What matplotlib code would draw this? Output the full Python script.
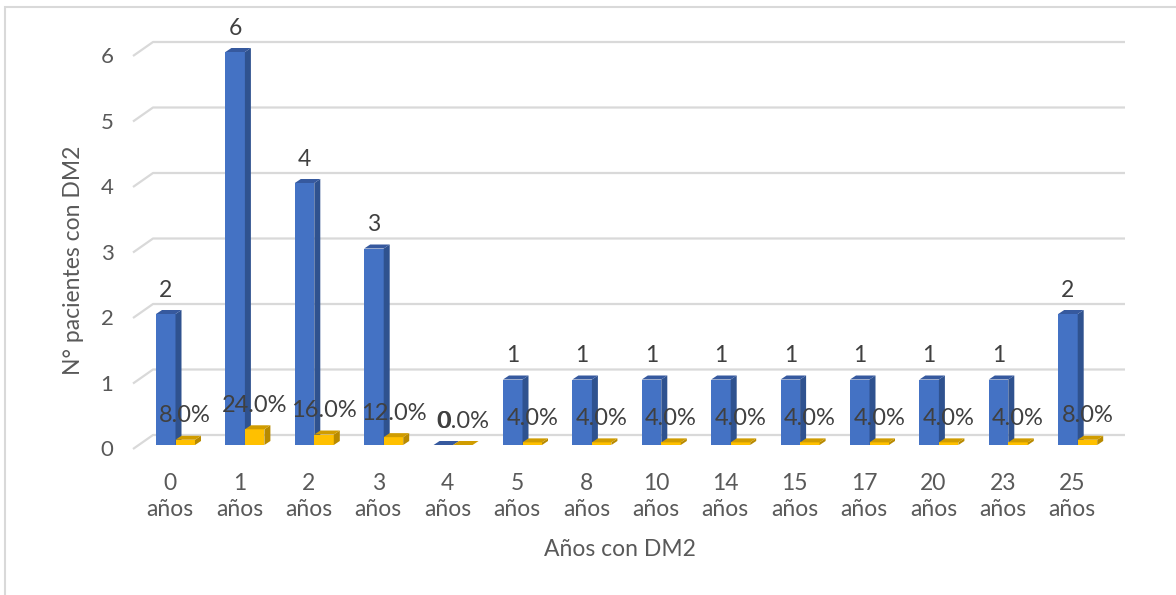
import numpy as np
import matplotlib.pyplot as plt
from matplotlib.patches import Polygon, Rectangle

# Pacientes con DM2 por años de evolución
categorias = ['0', '1', '2', '3', '4', '5', '8', '10', '14', '15', '17', '20', '23', '25']
pacientes = [2, 6, 4, 3, 0, 1, 1, 1, 1, 1, 1, 1, 1, 2]
porcentaje = [0.08, 0.24, 0.16, 0.12, 0.00, 0.04, 0.04, 0.04, 0.04, 0.04,
              0.04, 0.04, 0.04, 0.08]
y_ticks = [0, 1, 2, 3, 4, 5, 6]

plt.rcParams['font.family'] = ['Lato', 'DejaVu Sans']

W, H = 1176, 595
fig = plt.figure(figsize=(W / 100, H / 100), dpi=100)
ax = fig.add_axes([0, 0, 1, 1])
ax.axis('off')

# pixels per data unit, and where category 0 / value 0 sit (pixels from top-left)
sx, sy = 69.4, 65.5
x0, y0 = 175.5, 445
ax.set_xlim(-x0 / sx, (W - x0) / sx)
ax.set_ylim(-(H - y0) / sy, y0 / sy)


def px(n):
    return n / sx


def py(n):
    return n / sy


w = px(19.5)
dx, dy = px(6), py(4)

azul = ('#4472C4', '#2F528F', '#36599E')
amarillo = ('#FFC000', '#B88A00', '#D09C00')

# back wall gridlines with the perspective stub on the left
for v in y_ticks:
    ax.plot([px(133 - x0), px(153 - x0), px(1125 - x0)],
            [v - py(4), v + py(10), v + py(10)],
            color='#D9D9D9', lw=1.6, zorder=1, solid_capstyle='butt')
    ax.text(px(107 - x0), v - py(5), str(v), ha='center', va='center',
            fontsize=16, color='#595959')


def caras(lefts, heights, colors, z):
    front, side, top = colors
    ax.bar(lefts, heights, width=w, align='edge', color=front, zorder=z)
    for xl, h in zip(lefts, heights):
        xr = xl + w
        ax.add_patch(Polygon([(xr, 0), (xr + dx, dy), (xr + dx, h + dy), (xr, h)],
                             closed=True, fc=side, ec='none', zorder=z))
        ax.add_patch(Polygon([(xl, h), (xl + dx, h + dy), (xr + dx, h + dy), (xr, h)],
                             closed=True, fc=top, ec='none', zorder=z))


x = np.arange(len(categorias))
caras(x - w, pacientes, azul, 3)
caras(x, porcentaje, amarillo, 4)

# value labels
for i, (n, p) in enumerate(zip(pacientes, porcentaje)):
    ax.text(i - w / 2, n + py(24), str(n), ha='center', va='center',
            fontsize=16.5, color='#404040', zorder=6)
    ax.text(i + w / 2, p + py(24), f'{p * 100:.1f}%', ha='center', va='center',
            fontsize=17, color='#404040', zorder=6)

# category labels
for i, c in enumerate(categorias):
    ax.text(i - px(5.5), -py(28), f'{c}\naños', ha='center', va='top',
            fontsize=16.5, color='#595959', linespacing=1.3)

fig.text(620 / W, 1 - 550 / H, 'Años con DM2', ha='center', va='center',
         fontsize=16.5, color='#595959')
fig.text(73 / W, 1 - 260 / H, 'N° pacientes con DM2', ha='center', va='center',
         rotation=90, fontsize=16.5, color='#595959')

# chart frame
fig.patches.append(Rectangle((5 / W, -0.1), 2, 1.1 - 7 / H, transform=fig.transFigure,
                             fill=False, ec='#D9D9D9', lw=1.5))

fig.savefig('out.png', dpi=100)
